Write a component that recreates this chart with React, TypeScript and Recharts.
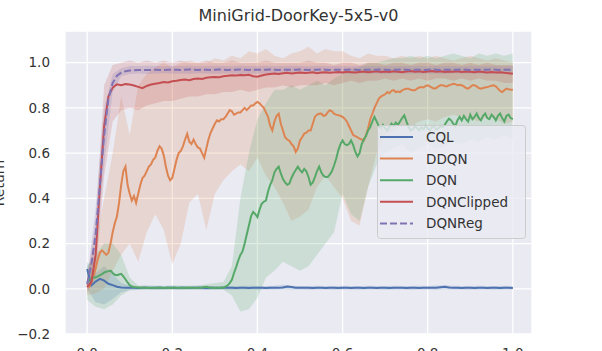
import { ComposedChart, Line, Area, XAxis, YAxis, CartesianGrid } from 'recharts';

// seaborn "deep" palette
const COLORS = {
  CQL: '#4c72b0',
  DDQN: '#dd8452',
  DQN: '#55a868',
  DQNClipped: '#c44e52',
  DQNReg: '#8172b3',
};

const xTicks = [0, 0.2, 0.4, 0.6, 0.8, 1.0];
const yTicks = [-0.2, 0, 0.2, 0.4, 0.6, 0.8, 1.0];

// mean return, evenly spaced over the normalised training steps 0..1
const cqlReturn = [
  0.088, 0.015, 0.032, 0.044, 0.036, 0.022, 0.016, 0.009, 0.006, 0.005,
  0.004, 0.004, 0.003, 0.004, 0.004, 0.003, 0.004, 0.004, 0.003, 0.004,
  0.004, 0.003, 0.004, 0.004, 0.003, 0.004, 0.004, 0.004, 0.003, 0.004,
  0.004, 0.003, 0.004, 0.004, 0.004, 0.003, 0.004, 0.004, 0.003, 0.004,
  0.004, 0.004, 0.003, 0.004, 0.004, 0.004, 0.006, 0.010, 0.008, 0.005,
  0.004, 0.005, 0.004, 0.003, 0.004, 0.004, 0.003, 0.004, 0.004, 0.003,
  0.004, 0.004, 0.003, 0.004, 0.004, 0.003, 0.004, 0.004, 0.003, 0.004,
  0.004, 0.003, 0.004, 0.004, 0.004, 0.003, 0.004, 0.004, 0.003, 0.004,
  0.004, 0.004, 0.005, 0.007, 0.009, 0.006, 0.004, 0.004, 0.003, 0.004,
  0.004, 0.003, 0.004, 0.004, 0.003, 0.004, 0.004, 0.003, 0.004, 0.004,
  0.003,
];

const dqnRegReturn = [
  0.02, 0.11, 0.24, 0.46, 0.68, 0.84, 0.91, 0.942, 0.956, 0.962,
  0.965, 0.966, 0.967, 0.968, 0.967, 0.968, 0.969, 0.968, 0.968, 0.969,
  0.968, 0.969, 0.968, 0.969, 0.970, 0.969, 0.968, 0.969, 0.969, 0.968,
  0.969, 0.970, 0.969, 0.968, 0.969, 0.969, 0.970, 0.969, 0.968, 0.969,
  0.969, 0.968, 0.969, 0.970, 0.969, 0.968, 0.969, 0.969, 0.968, 0.969,
  0.970, 0.969, 0.968, 0.969, 0.969, 0.970, 0.969, 0.968, 0.969, 0.969,
  0.968, 0.969, 0.970, 0.969, 0.968, 0.969, 0.969, 0.968, 0.969, 0.970,
  0.969, 0.968, 0.969, 0.969, 0.970, 0.969, 0.968, 0.969, 0.969, 0.968,
  0.969, 0.970, 0.969, 0.968, 0.969, 0.969, 0.968, 0.969, 0.970, 0.969,
  0.968, 0.969, 0.969, 0.968, 0.969, 0.970, 0.969, 0.968, 0.969, 0.969,
  0.968,
];

const dqnClippedReturn = [
  0.007, 0.03, 0.15, 0.45, 0.72, 0.85, 0.89, 0.904, 0.900, 0.905,
  0.903, 0.899, 0.893, 0.887, 0.897, 0.903, 0.907, 0.910, 0.914, 0.912,
  0.918, 0.920, 0.923, 0.925, 0.922, 0.928, 0.930, 0.928, 0.933, 0.935,
  0.937, 0.936, 0.940, 0.942, 0.944, 0.943, 0.945, 0.944, 0.946, 0.940,
  0.938, 0.943, 0.948, 0.950, 0.952, 0.950, 0.953, 0.955, 0.952, 0.954,
  0.956, 0.954, 0.955, 0.957, 0.953, 0.956, 0.958, 0.955, 0.957, 0.959,
  0.957, 0.960, 0.958, 0.956, 0.959, 0.961, 0.958, 0.960, 0.962, 0.959,
  0.961, 0.959, 0.962, 0.960, 0.958, 0.961, 0.963, 0.960, 0.962, 0.959,
  0.961, 0.963, 0.960, 0.962, 0.959, 0.961, 0.960, 0.962, 0.959, 0.961,
  0.960, 0.958, 0.961, 0.959, 0.957, 0.959, 0.956, 0.958, 0.955, 0.953,
  0.951,
];

const ddqnReturn = [
  0.02, 0.01, 0.03, 0.06, 0.09, 0.13, 0.16, 0.17, 0.16, 0.15,
  0.16, 0.20, 0.25, 0.29, 0.32, 0.38, 0.46, 0.52, 0.54, 0.46,
  0.42, 0.39, 0.41, 0.38, 0.42, 0.46, 0.49, 0.50, 0.52, 0.54,
  0.55, 0.57, 0.58, 0.61, 0.63, 0.62, 0.59, 0.54, 0.50, 0.48,
  0.49, 0.53, 0.57, 0.60, 0.61, 0.63, 0.66, 0.685, 0.65, 0.64,
  0.66, 0.64, 0.625, 0.62, 0.60, 0.58, 0.62, 0.66, 0.69, 0.71,
  0.73, 0.745, 0.74, 0.75, 0.75, 0.76, 0.775, 0.79, 0.785, 0.77,
  0.775, 0.78, 0.78, 0.79, 0.80, 0.79, 0.80, 0.81, 0.81, 0.82,
  0.826, 0.82, 0.81, 0.80, 0.78, 0.76, 0.72, 0.70, 0.74, 0.765,
  0.774, 0.73, 0.70, 0.67, 0.66, 0.655, 0.64, 0.63, 0.605, 0.62,
  0.656, 0.67, 0.686, 0.69, 0.70, 0.70, 0.73, 0.76, 0.77, 0.774,
  0.775, 0.765, 0.767, 0.78, 0.79, 0.785, 0.774, 0.77, 0.767, 0.765,
  0.76, 0.752, 0.74, 0.72, 0.70, 0.68, 0.675, 0.67, 0.664, 0.66,
  0.656, 0.68, 0.71, 0.75, 0.774, 0.80, 0.82, 0.84, 0.85, 0.855,
  0.86, 0.87, 0.865, 0.875, 0.878, 0.87, 0.872, 0.87, 0.878, 0.882,
  0.885, 0.885, 0.88, 0.878, 0.878, 0.885, 0.89, 0.892, 0.89, 0.897,
  0.90, 0.895, 0.89, 0.885, 0.888, 0.895, 0.90, 0.90, 0.897, 0.895,
  0.90, 0.903, 0.907, 0.905, 0.90, 0.902, 0.90, 0.895, 0.888, 0.885,
  0.892, 0.90, 0.90, 0.895, 0.888, 0.885, 0.888, 0.89, 0.892, 0.895,
  0.898, 0.90, 0.895, 0.885, 0.875, 0.87, 0.878, 0.885, 0.882, 0.88,
  0.88,
];

const dqnReturn = [
  0.03, 0.04, 0.044, 0.05, 0.05, 0.055, 0.06, 0.065, 0.072, 0.075,
  0.078, 0.08, 0.07, 0.062, 0.06, 0.063, 0.066, 0.055, 0.042, 0.028,
  0.016, 0.010, 0.008, 0.007, 0.006, 0.005, 0.005, 0.006, 0.005, 0.004,
  0.005, 0.005, 0.004, 0.005, 0.006, 0.005, 0.004, 0.005, 0.005, 0.004,
  0.005, 0.006, 0.005, 0.004, 0.005, 0.005, 0.004, 0.005, 0.006, 0.005,
  0.005, 0.004, 0.005, 0.005, 0.006, 0.008, 0.009, 0.007, 0.005, 0.005,
  0.004, 0.005, 0.005, 0.006, 0.005, 0.01, 0.015, 0.025, 0.04, 0.07,
  0.096, 0.125, 0.15, 0.165, 0.20, 0.24, 0.28, 0.32, 0.34, 0.33,
  0.317, 0.35, 0.376, 0.385, 0.39, 0.43, 0.46, 0.48, 0.515, 0.53,
  0.54, 0.51, 0.485, 0.47, 0.46, 0.465, 0.49, 0.51, 0.525, 0.54,
  0.525, 0.515, 0.53, 0.52, 0.494, 0.46, 0.47, 0.494, 0.52, 0.54,
  0.515, 0.50, 0.494, 0.494, 0.505, 0.52, 0.545, 0.575, 0.612, 0.64,
  0.656, 0.64, 0.635, 0.64, 0.656, 0.635, 0.605, 0.585, 0.60, 0.64,
  0.66, 0.675, 0.70, 0.715, 0.74, 0.76, 0.74, 0.72, 0.71, 0.725,
  0.71, 0.70, 0.715, 0.73, 0.72, 0.735, 0.725, 0.74, 0.755, 0.767,
  0.74, 0.715, 0.70, 0.705, 0.72, 0.71, 0.70, 0.715, 0.705, 0.72,
  0.71, 0.70, 0.715, 0.72, 0.705, 0.71, 0.72, 0.715, 0.725, 0.74,
  0.752, 0.745, 0.73, 0.72, 0.745, 0.76, 0.745, 0.765, 0.75, 0.74,
  0.77, 0.75, 0.76, 0.775, 0.755, 0.745, 0.765, 0.775, 0.755, 0.75,
  0.77, 0.76, 0.745, 0.765, 0.775, 0.755, 0.74, 0.765, 0.77, 0.755,
  0.75,
];

// confidence bands (lower / upper), 51 evenly spaced steps
const cqlLow = [
  0.0, -0.06, -0.07, -0.045, -0.015, -0.006, -0.005, -0.004, -0.005, -0.004,
  -0.004, -0.005, -0.004, -0.004, -0.005, -0.004, -0.004, -0.005, -0.004, -0.004,
  -0.005, -0.004, -0.004, -0.003, -0.004, -0.004, -0.005, -0.004, -0.004, -0.005,
  -0.004, -0.004, -0.005, -0.004, -0.004, -0.005, -0.004, -0.004, -0.005, -0.004,
  -0.004, -0.005, -0.003, -0.004, -0.004, -0.005, -0.004, -0.004, -0.005, -0.004,
  -0.004,
];
const cqlHigh = [
  0.12, 0.07, 0.10, 0.065, 0.025, 0.013, 0.012, 0.013, 0.012, 0.012,
  0.013, 0.012, 0.012, 0.013, 0.012, 0.012, 0.013, 0.012, 0.012, 0.013,
  0.012, 0.012, 0.013, 0.018, 0.013, 0.012, 0.012, 0.013, 0.012, 0.012,
  0.013, 0.012, 0.012, 0.013, 0.012, 0.012, 0.013, 0.012, 0.012, 0.013,
  0.012, 0.014, 0.016, 0.013, 0.012, 0.012, 0.013, 0.012, 0.012, 0.013,
  0.012,
];

const ddqnLow = [
  -0.03, -0.02, 0.0, 0.08, 0.15, 0.2, 0.12, 0.25, 0.33, 0.26,
  0.11, 0.2, 0.38, 0.42, 0.26, 0.42, 0.48, 0.52, 0.55, 0.52,
  0.58, 0.5, 0.45, 0.38, 0.3, 0.32, 0.35, 0.45, 0.5, 0.45,
  0.4, 0.3, 0.28, 0.45, 0.6, 0.68, 0.7, 0.72, 0.72, 0.74,
  0.75, 0.74, 0.76, 0.77, 0.76, 0.75, 0.74, 0.76, 0.75, 0.73,
  0.74,
];
const ddqnHigh = [
  0.08, 0.2, 0.4, 0.6, 0.85, 0.68, 0.9, 0.95, 0.98, 1.0,
  0.98, 1.0, 1.01, 1.0, 1.0, 1.02, 1.01, 1.03, 1.02, 1.05,
  1.04, 1.06, 1.03, 1.02, 1.04, 1.05, 1.07, 1.04, 1.06, 1.05,
  1.05, 1.03, 1.02, 1.04, 1.03, 1.03, 1.02, 1.03, 1.02, 1.03,
  1.02, 1.03, 1.02, 1.01, 1.02, 1.03, 1.02, 1.01, 1.02, 1.01,
  1.0,
];

const dqnLow = [
  -0.05, -0.08, -0.09, -0.07, -0.03, -0.005, -0.004, -0.003, -0.004, -0.004,
  -0.003, -0.004, -0.004, -0.003, -0.004, -0.005, -0.004, -0.03, -0.1, -0.09,
  -0.04, 0.05, 0.08, 0.12, 0.1, 0.08, 0.1, 0.15, 0.2, 0.25,
  0.42, 0.33, 0.3, 0.45, 0.55, 0.6, 0.62, 0.64, 0.6, 0.62,
  0.64, 0.62, 0.63, 0.65, 0.64, 0.66, 0.65, 0.67, 0.66, 0.68,
  0.66,
];
const dqnHigh = [
  0.1, 0.15, 0.2, 0.2, 0.15, 0.05, 0.015, 0.014, 0.015, 0.013,
  0.014, 0.015, 0.013, 0.014, 0.02, 0.025, 0.03, 0.1, 0.4, 0.6,
  0.75, 0.82, 0.88, 0.88, 0.9, 0.88, 0.9, 0.92, 0.9, 0.93,
  0.95, 0.97, 0.98, 1.0, 1.0, 1.01, 1.02, 1.02, 1.03, 1.02,
  1.03, 1.02, 1.03, 1.04, 1.03, 1.02, 1.04, 1.03, 1.04, 1.03,
  1.04,
];

const dqnClippedLow = [
  -0.02, 0.05, 0.5, 0.74, 0.79, 0.80, 0.79, 0.81, 0.82, 0.83,
  0.83, 0.84, 0.85, 0.85, 0.86, 0.86, 0.87, 0.87, 0.88, 0.87,
  0.88, 0.89, 0.89, 0.9, 0.89, 0.9, 0.9, 0.9, 0.91, 0.9,
  0.91, 0.92, 0.91, 0.92, 0.92, 0.93, 0.92, 0.93, 0.92, 0.93,
  0.92, 0.93, 0.93, 0.92, 0.93, 0.92, 0.93, 0.92, 0.92, 0.91,
  0.91,
];
const dqnClippedHigh = [
  0.04, 0.3, 0.9, 0.99, 1.0, 1.01, 1.0, 1.01, 1.0, 1.01,
  1.0, 1.01, 1.0, 1.0, 1.01, 1.0, 1.0, 1.01, 1.0, 1.0,
  1.0, 1.01, 1.0, 1.0, 1.0, 1.0, 1.01, 1.0, 1.0, 0.99,
  1.0, 1.0, 0.99, 1.0, 1.0, 0.99, 1.0, 1.0, 0.99, 1.0,
  1.0, 0.99, 1.0, 1.0, 0.99, 1.0, 0.99, 1.0, 0.99, 0.99,
  0.99,
];

const dqnRegLow = [
  0.0, 0.14, 0.55, 0.87, 0.94, 0.95, 0.952, 0.95, 0.952, 0.953,
  0.951, 0.952, 0.95, 0.953, 0.952, 0.951, 0.952, 0.953, 0.95, 0.952,
  0.951, 0.953, 0.952, 0.95, 0.952, 0.951, 0.953, 0.952, 0.951, 0.952,
  0.95, 0.952, 0.953, 0.951, 0.952, 0.95, 0.952, 0.953, 0.951, 0.952,
  0.951, 0.952, 0.95, 0.953, 0.952, 0.951, 0.952, 0.95, 0.952, 0.951,
  0.95,
];
const dqnRegHigh = [
  0.04, 0.36, 0.8, 0.95, 0.975, 0.985, 0.985, 0.986, 0.985, 0.984,
  0.986, 0.985, 0.986, 0.984, 0.985, 0.986, 0.985, 0.984, 0.986, 0.985,
  0.985, 0.986, 0.984, 0.985, 0.986, 0.985, 0.984, 0.986, 0.985, 0.985,
  0.986, 0.984, 0.985, 0.986, 0.985, 0.984, 0.986, 0.985, 0.985, 0.986,
  0.984, 0.985, 0.986, 0.985, 0.984, 0.986, 0.985, 0.985, 0.986, 0.984,
  0.985,
];

const toPoints = (vals: number[]) =>
  vals.map((y, i) => ({ x: i / (vals.length - 1), y }));
const toBand = (lo: number[], hi: number[]) =>
  lo.map((l, i) => ({ x: i / (lo.length - 1), range: [l, hi[i]] }));

const series = [
  { name: 'CQL', color: COLORS.CQL, line: toPoints(cqlReturn), band: toBand(cqlLow, cqlHigh), dash: undefined },
  { name: 'DDQN', color: COLORS.DDQN, line: toPoints(ddqnReturn), band: toBand(ddqnLow, ddqnHigh), dash: undefined },
  { name: 'DQN', color: COLORS.DQN, line: toPoints(dqnReturn), band: toBand(dqnLow, dqnHigh), dash: undefined },
  { name: 'DQNClipped', color: COLORS.DQNClipped, line: toPoints(dqnClippedReturn), band: toBand(dqnClippedLow, dqnClippedHigh), dash: undefined },
  { name: 'DQNReg', color: COLORS.DQNReg, line: toPoints(dqnRegReturn), band: toBand(dqnRegLow, dqnRegHigh), dash: '7 3' },
];

const FONT = '"DejaVu Sans", sans-serif';
const TEXT = '#333';

const fmt = (v: number) => v.toFixed(1).replace('-', '\u2212');

export default function App() {
  return (
    <div style={{ position: 'absolute', left: 0, top: 0, width: 602, height: 351, background: '#fff' }}>
      <ComposedChart width={602} height={351} margin={{ top: 31, right: 70, bottom: 0, left: 0 }}>
        <CartesianGrid stroke="#fff" strokeWidth={1.3} fill="#eaeaf2" fillOpacity={1} />
        <XAxis
          type="number"
          dataKey="x"
          domain={[-0.052, 1.045]}
          ticks={xTicks}
          tickFormatter={fmt}
          allowDataOverflow
          axisLine={false}
          tickLine={false}
          tickSize={0}
          tickMargin={14}
          height={17}
          tick={{ fill: TEXT, fontSize: 13.5, fontFamily: FONT }}
        />
        <YAxis
          type="number"
          domain={[-0.2, 1.14]}
          ticks={yTicks}
          tickFormatter={fmt}
          allowDataOverflow
          axisLine={false}
          tickLine={false}
          tickSize={0}
          tickMargin={15}
          width={65}
          tick={{ fill: TEXT, fontSize: 13.5, fontFamily: FONT }}
        />
        {series.map((s) => [
          <Area
            key={s.name + '-band'}
            data={s.band}
            dataKey="range"
            type="linear"
            stroke="none"
            fill={s.color}
            fillOpacity={0.2}
            dot={false}
            activeDot={false}
            isAnimationActive={false}
          />,
          <Line
            key={s.name + '-line'}
            data={s.line}
            dataKey="y"
            name={s.name}
            type="linear"
            stroke={s.color}
            strokeWidth={2}
            strokeDasharray={s.dash}
            dot={false}
            activeDot={false}
            isAnimationActive={false}
          />,
        ])}
      </ComposedChart>
      <svg
        width={602}
        height={351}
        style={{ position: 'absolute', left: 0, top: 0, pointerEvents: 'none' }}
        fontFamily={FONT}
      >
        <text x={298.5} y={21} textAnchor="middle" fontSize={16} fill={TEXT}>
          MiniGrid-DoorKey-5x5-v0
        </text>
        <text transform="translate(4,183) rotate(-90)" textAnchor="middle" fontSize={14} fill={TEXT}>
          Return
        </text>
        <rect x={377.5} y={125.5} width={148} height={113} rx={3} fill="#eaeaf2" fillOpacity={0.8} stroke="#cccccc" />
        {series.map((s, i) => {
          const cy = 137 + i * 21.6;
          return (
            <g key={s.name}>
              <line x1={380} x2={413} y1={cy} y2={cy} stroke={s.color} strokeWidth={2} strokeDasharray={s.dash} />
              <text x={426} y={cy} dominantBaseline="central" fontSize={13.5} fill={TEXT}>
                {s.name}
              </text>
            </g>
          );
        })}
      </svg>
    </div>
  );
}
